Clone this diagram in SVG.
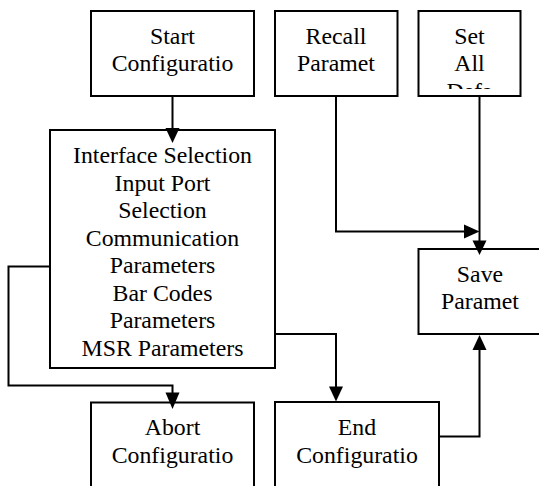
<svg xmlns="http://www.w3.org/2000/svg" width="539" height="486" viewBox="0 0 539 486">
<style>
.box{fill:#fff;stroke:#000;stroke-width:2}
.t{font-family:"Times New Roman",Times,"Liberation Serif",Tinos,"DejaVu Serif",serif;font-size:23.8px;fill:#000;text-anchor:middle}
.c{fill:none;stroke:#000;stroke-width:2}
.ah{fill:#000}
</style>
<defs>
<clipPath id="setclip"><rect x="419" y="12" width="101" height="77"/></clipPath>
</defs>
<g id="start">
<rect class="box" x="91" y="11" width="163" height="85"/>
<text class="t" x="172.5" y="43.5">Start</text>
<text class="t" x="172.5" y="71">Configuratio</text>
</g>
<g id="recall">
<rect class="box" x="275" y="11" width="122.5" height="85"/>
<text class="t" x="336" y="43.5">Recall</text>
<text class="t" x="336" y="71">Paramet</text>
</g>
<g id="setall">
<rect class="box" x="418.5" y="11" width="102" height="85"/>
<g clip-path="url(#setclip)">
<text class="t" x="469.5" y="43.5">Set</text>
<text class="t" x="469.5" y="71">All</text>
<text class="t" x="469.5" y="98.5">Defa</text>
</g>
</g>
<g id="interface">
<rect class="box" x="50" y="130" width="225" height="238"/>
<text class="t" x="162.5" y="163">Interface Selection</text>
<text class="t" x="162.5" y="190.5">Input Port</text>
<text class="t" x="162.5" y="218">Selection</text>
<text class="t" x="162.5" y="245.5">Communication</text>
<text class="t" x="162.5" y="273">Parameters</text>
<text class="t" x="162.5" y="300.5">Bar Codes</text>
<text class="t" x="162.5" y="328">Parameters</text>
<text class="t" x="162.5" y="355.5">MSR Parameters</text>
</g>
<g id="save">
<rect class="box" x="418.5" y="249" width="130" height="85"/>
<text class="t" x="480" y="281.5">Save</text>
<text class="t" x="480" y="309">Paramet</text>
</g>
<g id="abort">
<rect class="box" x="91" y="402.5" width="163" height="100"/>
<text class="t" x="172.5" y="435">Abort</text>
<text class="t" x="172.5" y="463">Configuratio</text>
</g>
<g id="end">
<rect class="box" x="275" y="402" width="164" height="100"/>
<text class="t" x="357" y="435">End</text>
<text class="t" x="357" y="463">Configuratio</text>
</g>
<g id="connectors">
<polyline class="c" points="172.5,96 172.5,130"/>
<polygon class="ah" points="165.5,128 179.5,128 172.5,143"/>
<polyline class="c" points="336,96 336,231.5 466,231.5"/>
<polygon class="ah" points="464,224.5 464,238.5 479.5,231.5"/>
<polyline class="c" points="479.5,96 479.5,242"/>
<polygon class="ah" points="472.5,240.5 486.5,240.5 479.5,255"/>
<polyline class="c" points="50,266.5 8.5,266.5 8.5,385.5 172.5,385.5 172.5,395"/>
<polygon class="ah" points="165.5,392.5 179.5,392.5 172.5,409"/>
<polyline class="c" points="275,334 336,334 336,389"/>
<polygon class="ah" points="329,386.5 343,386.5 336,401.5"/>
<polyline class="c" points="439,436.5 479.5,436.5 479.5,348"/>
<polygon class="ah" points="472.5,350 486.5,350 479.5,335"/>
</g>
</svg>
